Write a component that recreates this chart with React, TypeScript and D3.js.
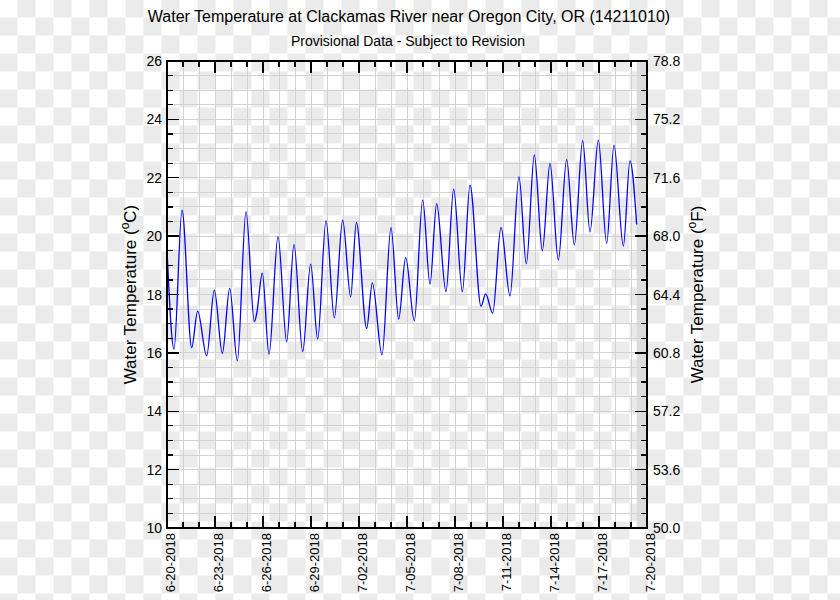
import React from "react";
import * as d3 from "d3";

// ---- data ----
const times: string[] = [
  "2018-06-20 00:00", "2018-06-20 10:30", "2018-06-20 22:30", "2018-06-21 13:00",
  "2018-06-21 22:00", "2018-06-22 11:30", "2018-06-22 23:00", "2018-06-23 11:00",
  "2018-06-23 22:00", "2018-06-24 09:30", "2018-06-24 22:30", "2018-06-25 11:00",
  "2018-06-25 14:30", "2018-06-25 23:00", "2018-06-26 09:00", "2018-06-26 22:30",
  "2018-06-27 11:30", "2018-06-27 22:30", "2018-06-28 11:30", "2018-06-28 23:30",
  "2018-06-29 10:00", "2018-06-29 22:30", "2018-06-30 11:00", "2018-06-30 23:30",
  "2018-07-01 11:30", "2018-07-01 20:00", "2018-07-02 11:30", "2018-07-02 20:00",
  "2018-07-03 10:30", "2018-07-04 00:00", "2018-07-04 11:30", "2018-07-04 22:00",
  "2018-07-05 11:00", "2018-07-05 23:30", "2018-07-06 10:30", "2018-07-06 20:30",
  "2018-07-07 10:30", "2018-07-07 22:00", "2018-07-08 11:00", "2018-07-08 22:30",
  "2018-07-09 15:00", "2018-07-09 22:00", "2018-07-10 08:30", "2018-07-10 21:00",
  "2018-07-11 10:30", "2018-07-12 00:00", "2018-07-12 11:00", "2018-07-12 23:00",
  "2018-07-13 11:00", "2018-07-13 22:30", "2018-07-14 11:00", "2018-07-14 23:30",
  "2018-07-15 11:00", "2018-07-15 23:30", "2018-07-16 10:30", "2018-07-16 23:00",
  "2018-07-17 11:30", "2018-07-17 22:30", "2018-07-18 12:30", "2018-07-18 22:30",
  "2018-07-19 08:30",
];
const tempsC: number[] = [
  19.55, 16.13, 20.89, 16.18,
  17.43, 15.9, 18.15, 15.98,
  18.21, 15.73, 20.84, 17.07,
  17.34, 18.73, 15.95, 19.98,
  16.38, 19.72, 16.04, 19.04,
  16.47, 20.53, 17.2, 20.55,
  17.92, 20.47, 16.84, 18.4,
  15.93, 20.29, 17.16, 19.26,
  17.1, 21.24, 18.36, 21.11,
  18.1, 21.61, 18.1, 21.75,
  17.6, 18.02, 17.36, 20.3,
  17.95, 22.04, 19.05, 22.78,
  19.5, 22.49, 19.18, 22.63,
  19.7, 23.27, 20.15, 23.29,
  19.75, 23.12, 19.66, 22.58,
  20.4,
];
const dateTickLabels: string[] = [
  "6-20-2018", "6-23-2018", "6-26-2018", "6-29-2018", "7-02-2018", "7-05-2018",
  "7-08-2018", "7-11-2018", "7-14-2018", "7-17-2018", "7-20-2018",
];
const cTickLabels: string[] = ["10", "12", "14", "16", "18", "20", "22", "24", "26"];
const fTickLabels: string[] = ["50.0", "53.6", "57.2", "60.8", "64.4", "68.0", "71.6", "75.2", "78.8"];
const domainStart = "2018-06-20 00:00";
const domainEnd = "2018-07-20 00:00";
const titleText = "Water Temperature at Clackamas River near Oregon City, OR (14211010)";
const subtitleText = "Provisional Data - Subject to Revision";

export default function App() {
  const W = 840, H = 600;
  const left = 167, right = 647, top = 61, bottom = 528;
  const font = "'Liberation Sans', Arial, Helvetica, sans-serif";

  const parse = d3.utcParse("%Y-%m-%d %H:%M")!;
  const parseLabel = d3.utcParse("%m-%d-%Y")!;
  const x = d3.scaleUtc().domain([parse(domainStart)!, parse(domainEnd)!]).range([left, right]);
  const y = d3.scaleLinear().domain([+cTickLabels[0], +cTickLabels[cTickLabels.length - 1]]).range([bottom, top]);
  const yF = d3.scaleLinear().domain([+fTickLabels[0], +fTickLabels[fTickLabels.length - 1]]).range([bottom, top]);

  const data = times.map((t, i) => ({ t: parse(t)!, v: tempsC[i] }));
  const line = d3.line<{ t: Date; v: number }>()
    .x((d) => x(d.t))
    .y((d) => y(d.v))
    .curve(d3.curveMonotoneX);

  const days = d3.utcDay.range(x.domain()[0], d3.utcDay.offset(x.domain()[1], 1));
  const halfSteps = d3.range(y.domain()[0], y.domain()[1] + 0.001, 0.5);
  const majorDates = dateTickLabels.map((l) => parseLabel(l)!);
  const majorTimes = new Set(majorDates.map((d) => +d));
  const lastT = data[data.length - 1].t;

  return (
    <svg width={W} height={H} style={{ position: "absolute", left: 0, top: 0, background: "#fff" }}>
      <defs>
        <pattern id="checker" width={36} height={36} patternUnits="userSpaceOnUse" x={-0.5} y={-0.5}>
          <rect x={0} y={0} width={36} height={36} fill="#ffffff" />
          <rect x={18} y={0} width={18} height={18} fill="#ebebeb" />
          <rect x={0} y={18} width={18} height={18} fill="#ebebeb" />
        </pattern>
      </defs>
      <rect x={0} y={0} width={W} height={H} fill="url(#checker)" />

      {/* no-data shading */}
      <rect x={x(lastT)} y={top} width={right - x(lastT)} height={bottom - top} fill="#dcdcdc" />

      {/* grid */}
      <g stroke="#d2d2d2" strokeWidth={1} shapeRendering="crispEdges">
        {days.map((d, i) => (
          <line key={"gx" + i} x1={x(d)} x2={x(d)} y1={top} y2={bottom} />
        ))}
        {halfSteps.map((v, i) => (
          <line key={"gy" + i} x1={left} x2={right} y1={y(v)} y2={y(v)} />
        ))}
      </g>

      {/* data line */}
      <path d={line(data) || ""} fill="none" stroke="#0000ff" strokeWidth={1.3} />

      {/* frame */}
      <rect x={left} y={top} width={right - left} height={bottom - top} fill="none" stroke="#000" strokeWidth={1.3} shapeRendering="crispEdges" />

      {/* ticks */}
      <g stroke="#000" strokeWidth={1.3} shapeRendering="crispEdges">
        {days.map((d, i) => {
          const len = majorTimes.has(+d) ? 12 : 6;
          const xx = x(d);
          return (
            <g key={"tx" + i}>
              <line x1={xx} x2={xx} y1={top} y2={top + len} />
              <line x1={xx} x2={xx} y1={bottom} y2={bottom - len} />
            </g>
          );
        })}
        {halfSteps.map((v, i) => {
          const len = v % 2 === 0 ? 12 : 6;
          const yy = y(v);
          return (
            <g key={"ty" + i}>
              <line x1={left} x2={left + len} y1={yy} y2={yy} />
              <line x1={right} x2={right - len} y1={yy} y2={yy} />
            </g>
          );
        })}
      </g>

      {/* tick labels */}
      <g fontFamily={font} fontSize={14} fill="#000">
        {cTickLabels.map((l, i) => (
          <text key={"cl" + i} x={left - 5} y={y(+l)} dy="0.36em" textAnchor="end">{l}</text>
        ))}
        {fTickLabels.map((l, i) => (
          <text key={"fl" + i} x={right + 6} y={yF(+l)} dy="0.36em" textAnchor="start">{l}</text>
        ))}
      </g>
      <g fontFamily={font} fontSize={13} fill="#000">
        {dateTickLabels.map((l, i) => {
          const xx = x(majorDates[i]);
          return (
            <text key={"dl" + i} transform={`translate(${xx + 8},${bottom + 5}) rotate(-90)`} textAnchor="end">{l}</text>
          );
        })}
      </g>

      {/* titles */}
      <text x={409} y={22} textAnchor="middle" fontFamily={font} fontSize={16}>{titleText}</text>
      <text x={408} y={46} textAnchor="middle" fontFamily={font} fontSize={14}>{subtitleText}</text>

      <text transform={`translate(136,${(top + bottom) / 2}) rotate(-90)`} textAnchor="middle" fontFamily={font} fontSize={17}>
        Water Temperature (<tspan baselineShift="super" fontSize={12}>o</tspan>C)
      </text>
      <text transform={`translate(703,${(top + bottom) / 2}) rotate(-90)`} textAnchor="middle" fontFamily={font} fontSize={17}>
        Water Temperature (<tspan baselineShift="super" fontSize={12}>o</tspan>F)
      </text>
    </svg>
  );
}
